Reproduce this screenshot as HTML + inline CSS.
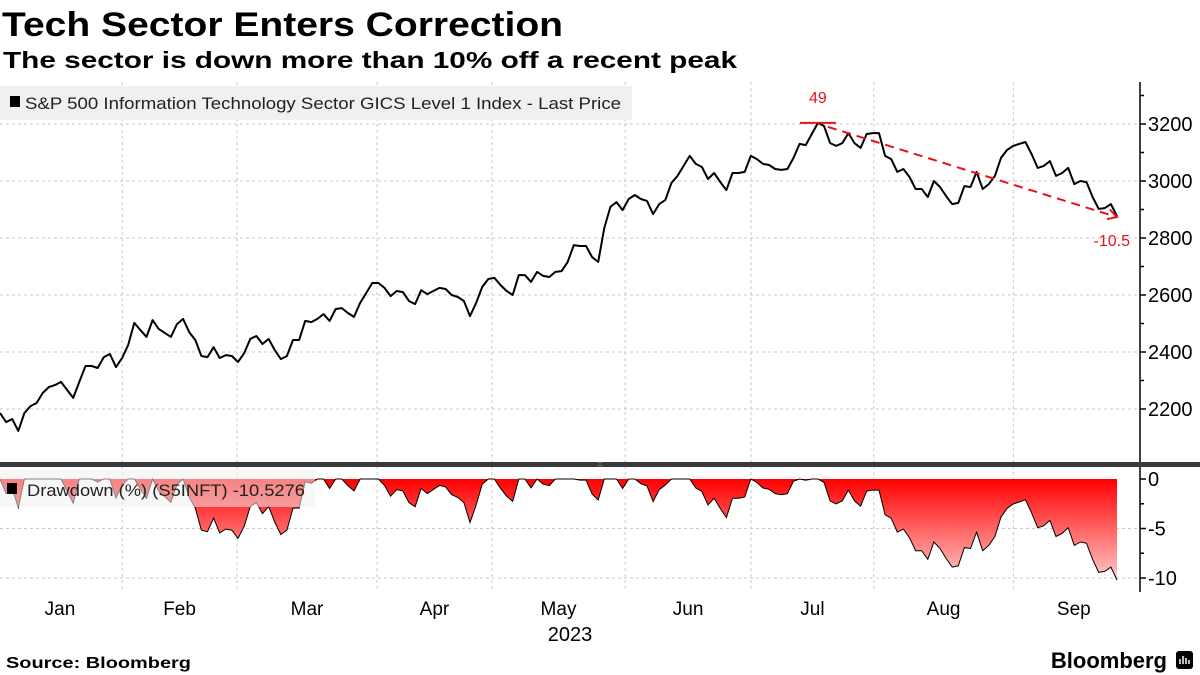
<!DOCTYPE html>
<html><head><meta charset="utf-8">
<style>
body{margin:0;width:1200px;height:675px;background:#fff;overflow:hidden;font-family:"Liberation Sans","DejaVu Sans",sans-serif}
svg{display:block}
</style></head>
<body>
<svg id="chart" width="1200" height="675" viewBox="0 0 1200 675">
<defs>
<linearGradient id="ddgrad" x1="0" y1="479" x2="0" y2="585" gradientUnits="userSpaceOnUse">
<stop offset="0" stop-color="#ff0000"/><stop offset="1" stop-color="#ffd4d4"/>
</linearGradient>
<marker id="arrow" markerWidth="12" markerHeight="12" refX="10" refY="6" orient="auto" markerUnits="userSpaceOnUse">
<path d="M1,1 L10,6 L1,11" fill="none" stroke="#e8121b" stroke-width="2"/>
</marker>
</defs>
<text x="2" y="36" font-size="34" font-weight="bold" fill="#000" textLength="561" lengthAdjust="spacingAndGlyphs">Tech Sector Enters Correction</text>
<text x="3" y="68" font-size="23" font-weight="bold" fill="#000" textLength="734" lengthAdjust="spacingAndGlyphs">The sector is down more than 10% off a recent peak</text>
<g id="grid"></g>
<g id="ddpanel"></g>
<g id="mainpanel"></g>
<rect x="0" y="462" width="1200" height="5" fill="#3a3a3a"/>
<text x="600" y="467" font-size="9" fill="#999" text-anchor="middle">=</text>
<g id="axes"></g>
<rect x="0" y="86" width="632" height="34" fill="#f0f0f0"/>
<rect x="10" y="96" width="10" height="11" fill="#000"/>
<text x="25" y="109" font-size="17" fill="#222" textLength="596" lengthAdjust="spacingAndGlyphs">S&amp;P 500 Information Technology Sector GICS Level 1 Index - Last Price</text>
<rect x="0" y="470" width="315" height="37" fill="#f0f0f0" fill-opacity="0.55"/>
<rect x="7" y="483" width="10" height="11" fill="#000"/>
<text x="27" y="496" font-size="17" fill="#222" textLength="278" lengthAdjust="spacingAndGlyphs">Drawdown (%) (S5INFT) -10.5276</text>
<g id="annot"></g>
<text x="570" y="641" font-size="20" fill="#000" text-anchor="middle">2023</text>
<text x="6" y="668" font-size="16" font-weight="bold" fill="#000" textLength="185" lengthAdjust="spacingAndGlyphs">Source: Bloomberg</text>
<text x="1167" y="668" font-size="22" font-weight="bold" fill="#000" text-anchor="end">Bloomberg</text>
<rect x="1176" y="651" width="17" height="18" rx="3" fill="#000"/>
<path d="M1180,664V659M1183,664V656M1186,664V658M1189,664V660" stroke="#fff" stroke-width="1.5"/>
</svg>
<script>
const prices=[2186,2154,2165,2123,2186,2210,2221,2256,2277,2284,2295,2267,2239,2295,2351,2351,2344,2382,2393,2347,2379,2425,2502,2477,2453,2512,2481,2467,2453,2498,2516,2470,2442,2386,2382,2417,2379,2389,2386,2365,2396,2446,2456,2428,2446,2407,2375,2386,2442,2442,2509,2505,2516,2533,2509,2551,2554,2537,2523,2572,2607,2642,2642,2625,2596,2614,2610,2579,2568,2617,2603,2614,2625,2621,2600,2593,2579,2526,2572,2628,2656,2660,2635,2614,2600,2670,2670,2646,2681,2667,2663,2681,2684,2716,2775,2772,2772,2733,2716,2835,2909,2926,2898,2937,2951,2937,2930,2884,2919,2933,2993,3018,3053,3088,3060,3049,3007,3028,2996,2968,3028,3028,3032,3088,3077,3060,3056,3042,3039,3042,3081,3130,3126,3165,3204,3193,3133,3123,3133,3168,3133,3116,3165,3168,3168,3088,3077,3032,3042,3014,2972,2972,2944,3000,2979,2947,2919,2923,2982,2979,3032,2972,2989,3018,3081,3109,3123,3130,3137,3095,3046,3053,3070,3018,3028,3046,2989,3000,2996,2944,2902,2905,2919,2877];
const priceTicks=[2200,2400,2600,2800,3000,3200];
const ddTicks=[0,-5,-10];
const months=["Jan","Feb","Mar","Apr","May","Jun","Jul","Aug","Sep"];
const monthStartIdx=[0,19.8,38.4,61.1,79.7,101.3,121.7,141.6,164.2,183.8];
const peakLabel="49";
const lastLabel="-10.5";

const NS="http://www.w3.org/2000/svg";
const X0=0,X1=1117,N=prices.length;
const xs=i=>X0+(X1-X0)*i/(N-1);
const mx=i=>X0+(X1-X0)*i/181;
const yP=v=>124+(3200-v)*57/200;
const yD=v=>479-v*9.9;
function mk(tag,attrs,parent){const e=document.createElementNS(NS,tag);for(const k in attrs)e.setAttribute(k,attrs[k]);parent.appendChild(e);return e;}
const grid=document.getElementById('grid'),axes=document.getElementById('axes'),main=document.getElementById('mainpanel'),dd=document.getElementById('ddpanel'),annot=document.getElementById('annot');

for(let m=1;m<monthStartIdx.length-1;m++){
  const l=mk('line',{x1:mx(monthStartIdx[m]),x2:mx(monthStartIdx[m]),y1:82,y2:592,stroke:'#c8c8c8','stroke-dasharray':'3,3'},grid);
  
  
}
priceTicks.forEach(t=>{
  const l=mk('line',{x1:0,x2:1140,y1:yP(t),y2:yP(t),stroke:'#c8c8c8','stroke-dasharray':'3,3'},grid);
  
  
  mk('line',{x1:1140,x2:1146,y1:yP(t),y2:yP(t),stroke:'#000','stroke-width':1.5},axes);
  mk('line',{x1:1140,x2:1144,y1:yP(t+100),y2:yP(t+100),stroke:'#000','stroke-width':1.5},axes);
  const tx=mk('text',{x:1148,y:yP(t)+7,'font-size':20,fill:'#000'},axes);
  tx.textContent=t;
  
  
});
ddTicks.forEach(t=>{
  if(t!==0){const l=mk('line',{x1:0,x2:1140,y1:yD(t),y2:yD(t),stroke:'#c8c8c8','stroke-dasharray':'3,3'},grid);
  
  }
  mk('line',{x1:1140,x2:1146,y1:yD(t),y2:yD(t),stroke:'#000','stroke-width':1.5},axes);
  if(t-2.5>-11) mk('line',{x1:1140,x2:1144,y1:yD(t-2.5),y2:yD(t-2.5),stroke:'#000','stroke-width':1.5},axes);
  const tx=mk('text',{x:1148,y:yD(t)+7,'font-size':20,fill:'#000'},axes);
  tx.textContent=t;
  
  
});
mk('line',{x1:1140,x2:1140,y1:82,y2:462,stroke:'#000','stroke-width':1.5},axes);
mk('line',{x1:1140,x2:1140,y1:467,y2:592,stroke:'#000','stroke-width':1.5},axes);
months.forEach((m,i)=>{
  const a=mx(monthStartIdx[i]),b=mx(monthStartIdx[i+1]);
  const tx=mk('text',{x:i===0?60:(a+b)/2,y:615,'font-size':19,fill:'#000','text-anchor':'middle'},axes);
  tx.textContent=m;
  
  
});
let d='';prices.forEach((v,i)=>{d+=(i?'L':'M')+xs(i).toFixed(1)+','+yP(v).toFixed(1);});
const pl=mk('path',{d:d,fill:'none',stroke:'#000','stroke-width':2,'stroke-linejoin':'round'},main);


let runMax=-Infinity;const draws=prices.map(v=>{runMax=Math.max(runMax,v);return (v/runMax-1)*100;});
let da='M'+xs(0)+','+yD(0);let dl='';
draws.forEach((v,i)=>{da+='L'+xs(i).toFixed(1)+','+yD(v).toFixed(1);dl+=(i?'L':'M')+xs(i).toFixed(1)+','+yD(v).toFixed(1);});
da+='L'+xs(N-1)+','+yD(0)+'Z';
const af=mk('path',{d:da,fill:'url(#ddgrad)'},dd);


const al=mk('path',{d:dl,fill:'none',stroke:'#000','stroke-width':1},dd);


let pi=0;prices.forEach((v,i)=>{if(v>prices[pi])pi=i;});
const px=xs(pi),py=yP(prices[pi]);
const hl=mk('line',{x1:px-18,x2:px+18,y1:py,y2:py,stroke:'#e8121b','stroke-width':2},annot);


const pt=mk('text',{x:px,y:py-20,'font-size':16,fill:'#e8121b','text-anchor':'middle'},annot);
pt.textContent=peakLabel;


const lx=xs(N-1),ly=yP(prices[N-1]);
const ar=mk('line',{x1:px+10,y1:py+4,x2:lx,y2:ly+1,stroke:'#e8121b','stroke-width':2,'stroke-dasharray':'9,6','marker-end':'url(#arrow)'},annot);


const lt=mk('text',{x:lx+13,y:ly+30,'font-size':16,fill:'#e8121b','text-anchor':'end'},annot);
lt.textContent=lastLabel;


</script>
</body></html>
